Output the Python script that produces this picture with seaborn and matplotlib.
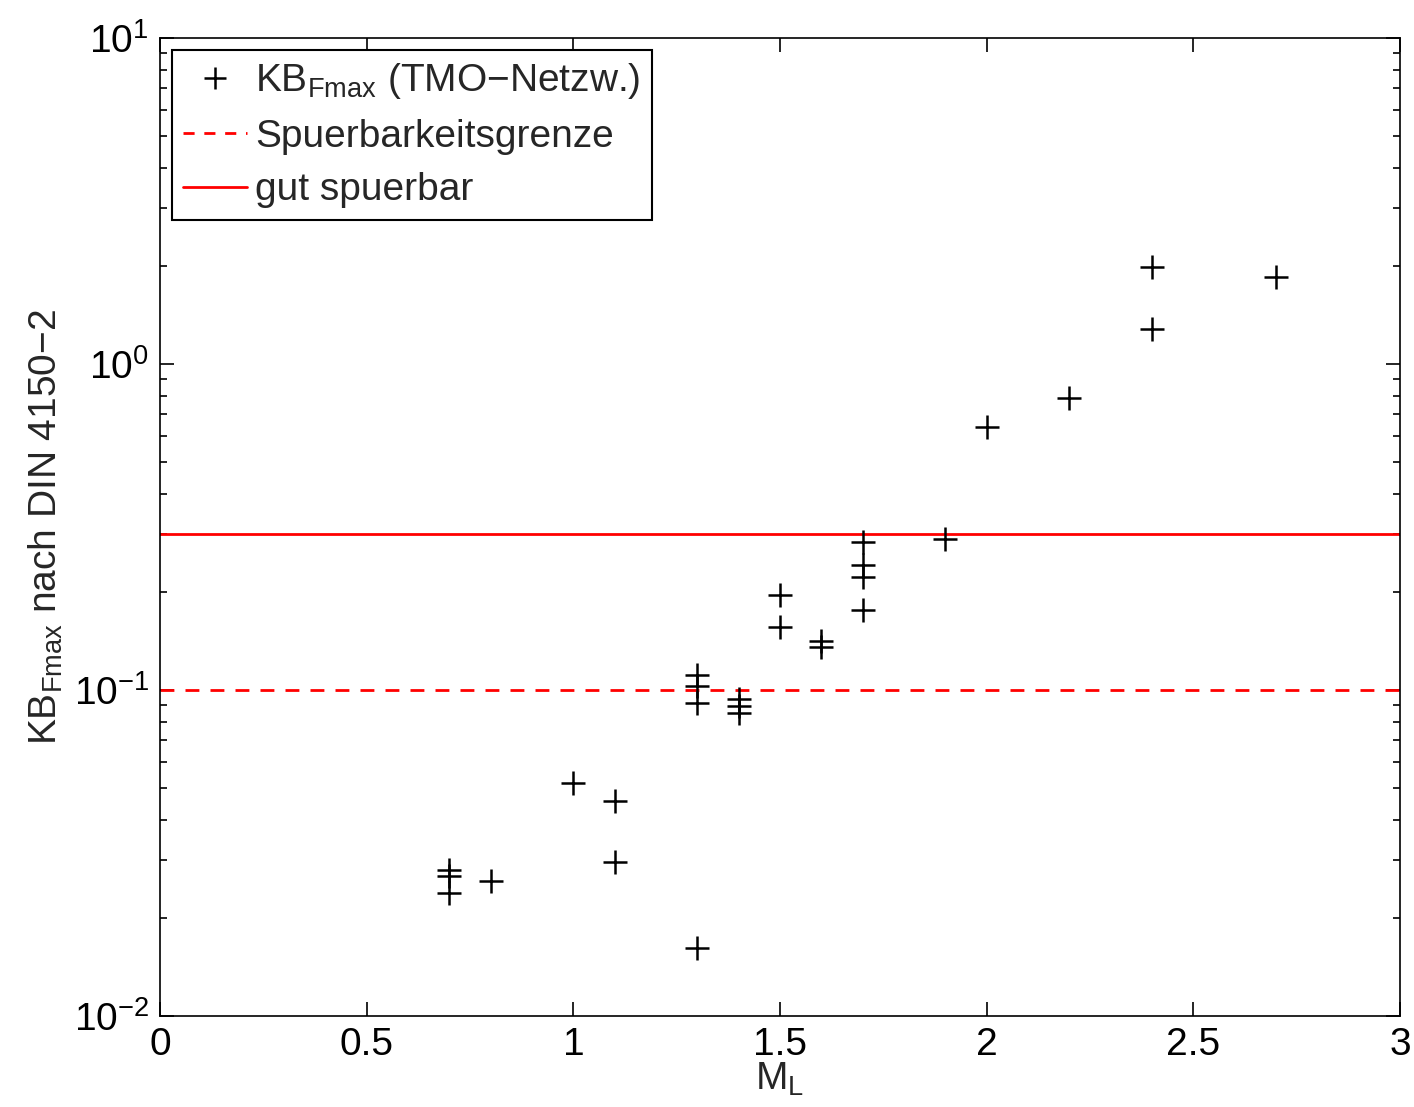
import numpy as np
import pandas as pd
import matplotlib
matplotlib.use("Agg")
import matplotlib.pyplot as plt
from matplotlib.lines import Line2D
from matplotlib.ticker import LogLocator, FixedLocator, FixedFormatter
import seaborn as sns

# ---- data ----
ml = [0.7, 0.7, 0.7, 0.8, 1.0, 1.1, 1.1, 1.3,
      1.3, 1.3, 1.3, 1.4, 1.4, 1.4, 1.5, 1.5, 1.6, 1.6,
      1.7, 1.7, 1.7, 1.7, 1.9, 2.0, 2.2, 2.4, 2.4, 2.7]
kb = [0.0281, 0.0269, 0.0238, 0.0260, 0.0520, 0.0457, 0.0297, 0.0162,
      0.111, 0.1028, 0.0915, 0.0936, 0.0893, 0.0852, 0.1956, 0.1557, 0.1416, 0.1358,
      0.285, 0.2416, 0.2217, 0.176, 0.290, 0.642, 0.785, 1.988, 1.277, 1.845]
grenze_spuerbar = 0.1
grenze_gut = 0.3
x_ticks = [0, 0.5, 1, 1.5, 2, 2.5, 3]
x_ticklabels = ["0", "0.5", "1", "1.5", "2", "2.5", "3"]

df = pd.DataFrame({"ML": ml, "KB": kb})

sns.set_style("ticks")
plt.rcParams["font.family"] = ["Liberation Sans", "DejaVu Sans"]
plt.rcParams["mathtext.fontset"] = "custom"
plt.rcParams["mathtext.rm"] = "Liberation Sans"
plt.rcParams["mathtext.it"] = "Liberation Sans:italic"
plt.rcParams["mathtext.bf"] = "Liberation Sans:bold"
plt.rcParams["mathtext.default"] = "regular"

FS = 28
fig = plt.figure(figsize=(14.14, 11.07), dpi=100)
ax = fig.add_axes([160/1414, 1 - 1016/1107, 1240/1414, 978/1107])

sns.scatterplot(data=df, x="ML", y="KB", marker="+", color="black",
                s=280, linewidth=1.8, ax=ax, legend=False, zorder=3)
ax.axhline(grenze_spuerbar, color="#ff0000", linestyle=(0, (5, 4)), linewidth=2)
ax.axhline(grenze_gut, color="#ff0000", linestyle="-", linewidth=2)

ax.set_yscale("log")
ax.set_xlim(0, 3)
ax.set_ylim(1e-2, 1e1)
ax.xaxis.set_major_locator(FixedLocator(x_ticks))
ax.xaxis.set_major_formatter(FixedFormatter(x_ticklabels))
ax.yaxis.set_major_locator(LogLocator(base=10, numticks=10))
ax.yaxis.set_minor_locator(LogLocator(base=10, subs=np.arange(2, 10), numticks=20))

ax.tick_params(which="both", direction="in", top=True, right=True,
               labelsize=FS, width=1.2, colors="black")
ax.tick_params(which="major", length=10, pad=8)
ax.tick_params(which="minor", length=5)
for sp in ax.spines.values():
    sp.set_linewidth(1.2)
    sp.set_color("black")

ax.set_xlabel(r"M$_{\mathrm{L}}$", fontsize=FS, labelpad=-2)
ax.set_ylabel(r"KB$_{\mathrm{Fmax}}$ nach DIN 4150−2", fontsize=FS, labelpad=6)

handles = [
    Line2D([], [], marker="+", color="black", linestyle="none", markersize=16, markeredgewidth=1.8),
    Line2D([], [], color="#ff0000", linestyle=(0, (4, 3.5)), linewidth=2),
    Line2D([], [], color="#ff0000", linestyle="-", linewidth=2),
]
labels = [r"KB$_{\mathrm{Fmax}}$ (TMO−Netzw.)", "Spuerbarkeitsgrenze", "gut spuerbar"]
leg = ax.legend(handles, labels, loc="upper left", fontsize=FS, frameon=True,
                fancybox=False, edgecolor="black", framealpha=1,
                handlelength=1.65, handletextpad=0.2, borderpad=0.3,
                labelspacing=0.45, borderaxespad=0.3)
leg.get_frame().set_linewidth(1.5)

fig.savefig("out.png", dpi=100, facecolor="white")
